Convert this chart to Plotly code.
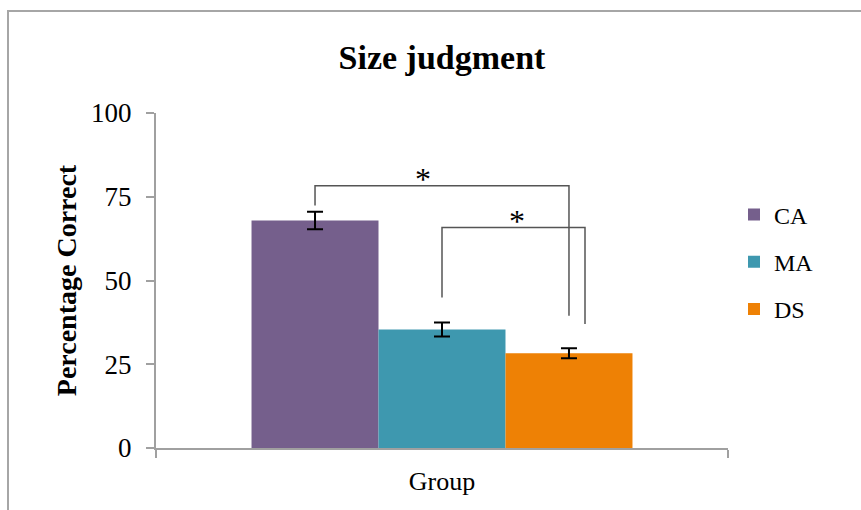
import plotly.graph_objects as go

# Group means and standard errors (percentage correct)
groups = ["CA", "MA", "DS"]
means = [67.9, 35.4, 28.3]
errors = [2.6, 2.1, 1.5]
colors = ["#755F8C", "#3E98AF", "#EE8105"]
category = ["Group"]

# Significance comparisons: (left group, right group, bracket height, left leg end, right leg end)
comparisons = [
    ("CA", "DS", 78.3, 72.4, 39.5),
    ("MA", "DS", 65.8, 44.9, 37.0),
]

W, H = 861, 510
L, R, T, B = 156, 133, 113, 62
BARGAP = 0.334
serif = "Liberation Serif"

fig = go.Figure()
for i, (g, m, e, c) in enumerate(zip(groups, means, errors, colors)):
    fig.add_trace(go.Bar(
        x=category, y=[m], name=g, legendgroup=g,
        marker=dict(color=c, line=dict(width=0)),
        error_y=dict(type="data", array=[e], visible=True,
                     color="black", thickness=2, width=8),
    ))

# bar centre offsets inside the single category
n = len(groups)
bw = (1 - BARGAP) / n
centre = {g: -0.5 * (1 - BARGAP) + (i + 0.5) * bw for i, g in enumerate(groups)}
right_shift = [0.0, 0.028]
star_shift = [-0.033, 0.006]

shapes = []
annotations = []
for k, (a, b, top, la, lb) in enumerate(comparisons):
    x0 = centre[a]
    x1 = centre[b] + right_shift[k]
    shapes.append(dict(
        type="path", xref="x", yref="y",
        path=f"M {x0},{la} L {x0},{top} L {x1},{top} L {x1},{lb}",
        line=dict(color="#555555", width=1.5),
    ))
    annotations.append(dict(
        x=(x0 + x1) / 2 + star_shift[k], y=top, xref="x", yref="y",
        text="*", showarrow=False, yanchor="middle",
        font=dict(family=serif, size=32, color="black"), yshift=7,
    ))

# outer frame of the chart area (top and left edges visible)
pw, ph = W - L - R, H - T - B
px = lambda v: (v - L) / pw
py = lambda v: (H - B - v) / ph
shapes.append(dict(
    type="path", xref="paper", yref="paper",
    path=f"M {px(8)},{py(530)} L {px(8)},{py(11)} L {px(900)},{py(11)}",
    line=dict(color="#A6A6A6", width=2), layer="above",
))

fig.update_layout(
    width=W, height=H,
    margin=dict(l=L, r=R, t=T, b=B),
    paper_bgcolor="white", plot_bgcolor="white",
    barmode="group", bargap=BARGAP, bargroupgap=0,
    title=dict(text="<b>Size judgment</b>", x=0.5, xref="paper",
               y=1 - 57 / H, yref="container", yanchor="middle",
               font=dict(family=serif, size=34, color="black")),
    xaxis=dict(
        showgrid=False, zeroline=False,
        showline=True, linecolor="#A0A0A0", linewidth=2,
        ticks="outside", tickson="boundaries", ticklen=8,
        tickcolor="#A0A0A0", tickwidth=2,
        tickfont=dict(family=serif, size=26, color="black"),
        ticklabelstandoff=9,
    ),
    yaxis=dict(
        range=[0, 100], tickvals=[0, 25, 50, 75, 100],
        showgrid=False, zeroline=False,
        showline=True, linecolor="#A0A0A0", linewidth=2,
        ticks="outside", ticklen=8, tickcolor="#A0A0A0", tickwidth=2,
        tickfont=dict(family=serif, size=27, color="black"),
        ticklabelstandoff=9,
        title=dict(text="<b>Percentage Correct</b>", standoff=6,
                   font=dict(family=serif, size=28, color="black")),
    ),
    legend=dict(
        x=px(734), y=py(262), xanchor="left", yanchor="middle",
        font=dict(family=serif, size=24, color="black"),
        tracegroupgap=13, bgcolor="rgba(0,0,0,0)",
    ),
    shapes=shapes,
    annotations=annotations,
    showlegend=True,
)

fig.write_html("out.html")
